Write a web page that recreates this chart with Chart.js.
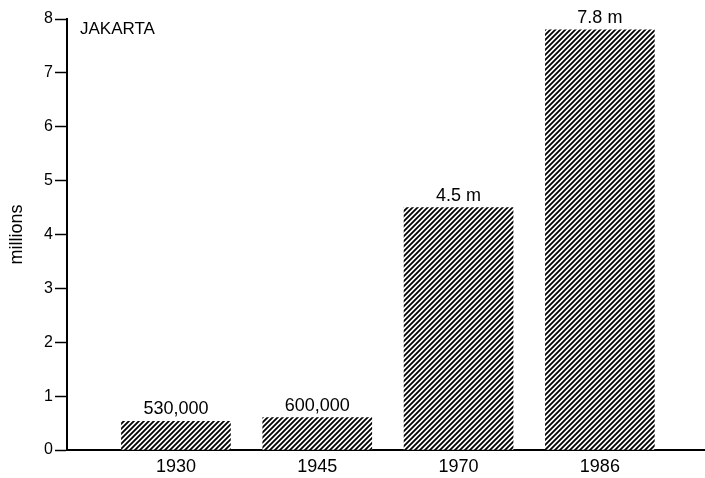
<!DOCTYPE html>
<html>
<head>
<meta charset="utf-8">
<script src="https://cdn.jsdelivr.net/npm/chart.js@4"></script>
<style>
  html, body { margin: 0; padding: 0; background: #fff; }
  #wrap { width: 705px; height: 478px; }
</style>
</head>
<body>
<div id="wrap"><canvas id="chart"></canvas></div>
<script>
const years = ['1930', '1945', '1970', '1986'];
const population = [0.53, 0.6, 4.5, 7.8]; // millions
const valueLabels = ['530,000', '600,000', '4.5 m', '7.8 m'];
const yTicks = [0, 1, 2, 3, 4, 5, 6, 7, 8];

const FONT = '"Liberation Sans", Arial, Helvetica, sans-serif';

// diagonal hatching like the printed bars
const makeHatch = () => {
  const c = document.createElement('canvas');
  c.width = 5;
  c.height = 5;
  const g = c.getContext('2d');
  g.fillStyle = '#fff';
  g.fillRect(0, 0, 5, 5);
  g.strokeStyle = '#000';
  g.lineWidth = 1.8;
  g.beginPath();
  g.moveTo(-1, 6); g.lineTo(6, -1);
  g.moveTo(-1, 1); g.lineTo(1, -1);
  g.moveTo(4, 6); g.lineTo(6, 4);
  g.stroke();
  return g.createPattern(c, 'repeat');
};

const barLabels = {
  id: 'barLabels',
  afterDatasetsDraw(chart) {
    const { ctx } = chart;
    const meta = chart.getDatasetMeta(0);
    ctx.save();
    ctx.fillStyle = '#000';
    ctx.font = '18px ' + FONT;
    ctx.textAlign = 'center';
    ctx.textBaseline = 'alphabetic';
    meta.data.forEach((bar, i) => {
      ctx.fillText(valueLabels[i], bar.x, bar.y - 7);
    });
    // city name in the corner
    ctx.font = '17px ' + FONT;
    ctx.textAlign = 'left';
    ctx.fillText('JAKARTA', chart.chartArea.left + 13, chart.chartArea.top + 15);
    ctx.restore();
  }
};

new Chart(document.getElementById('chart'), {
  type: 'bar',
  data: {
    datasets: [{
      data: population.map((v, i) => ({ x: i + 1, y: v })),
      backgroundColor: makeHatch(),
      borderWidth: 0,
      barThickness: 109
    }]
  },
  options: {
    responsive: true,
    maintainAspectRatio: false,
    animation: false,
    layout: { padding: { top: 19, right: 0, left: 0, bottom: 0 } },
    plugins: { legend: { display: false }, tooltip: { enabled: false } },
    scales: {
      x: {
        type: 'linear',
        offset: false,
        min: 0.229,
        max: 4.744,
        afterBuildTicks: (scale) => {
          scale.ticks = years.map((y, i) => ({ value: i + 1 }));
        },
        afterFit: (scale) => { scale.height = 28; },
        ticks: {
          color: '#000',
          font: { family: FONT, size: 18 },
          padding: 6,
          callback: (v) => years[v - 1]
        },
        grid: { display: false, drawTicks: false },
        border: { display: true, color: '#000', width: 2 }
      },
      y: {
        min: 0,
        max: 8,
        afterBuildTicks: (scale) => {
          scale.ticks = yTicks.map((v) => ({ value: v }));
        },
        afterFit: (scale) => { scale.width = 67; },
        ticks: {
          color: '#000',
          font: { family: FONT, size: 16 },
          padding: 2
        },
        grid: {
          drawOnChartArea: false,
          drawTicks: true,
          tickLength: 12,
          tickWidth: 1.5,
          color: '#000'
        },
        border: { display: true, color: '#000', width: 2 },
        title: {
          display: true,
          text: 'millions',
          color: '#000',
          font: { family: FONT, size: 18 },
          padding: { top: 6, bottom: 0 }
        }
      }
    }
  },
  plugins: [barLabels]
});
</script>
</body>
</html>
